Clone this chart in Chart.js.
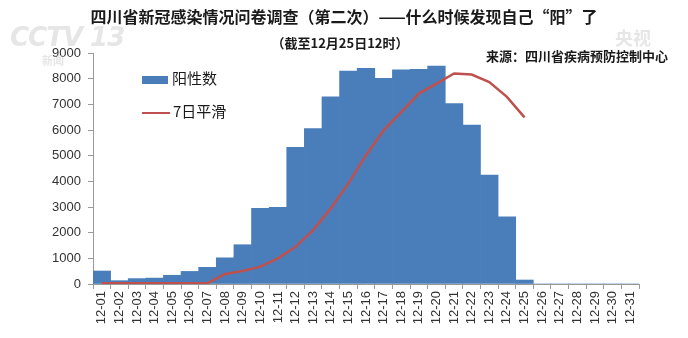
<!DOCTYPE html>
<html>
<head>
<meta charset="utf-8">
<script src="https://cdn.jsdelivr.net/npm/chart.js@4/dist/chart.umd.min.js"></script>
<style>
  body { margin: 0; background: #fff; font-family: "Noto Sans CJK SC", sans-serif; }
  #wrap { position: relative; width: 688px; height: 338px; overflow: hidden; }
  #chart { position: absolute; left: 0; top: 0; }
  .txt { position: absolute; color: #1a1a1a; font-weight: bold; white-space: nowrap; }
  #title { left: 0; width: 688px; top: 4px; text-align: center; font-size: 16px; }
  #subtitle { left: 0; width: 680px; top: 33px; text-align: center; font-size: 13px; }
  #source { right: 20px; top: 46px; font-size: 13px; }
  .legend-item { position: absolute; left: 142px; font-size: 15px; color: #1a1a1a; }
  .legend-box { display: inline-block; width: 26px; height: 8px; background: #4a7ebb; vertical-align: middle; margin-right: 4px; }
  .legend-line { display: inline-block; width: 28px; height: 2px; background: #c0504d; vertical-align: middle; margin-right: 3px; }
  .mark { position: absolute; color: rgba(200, 200, 200, 0.45); font-family: "DejaVu Sans", sans-serif; font-weight: bold; }
</style>
</head>
<body>
<div id="wrap">
  <canvas id="chart" width="688" height="338"></canvas>
  <div class="mark" style="left:10px; top:22px; font-size:26px; font-style:italic; letter-spacing:-1px;">CCTV 13</div>
  <div class="mark" style="left:42px; top:52px; font-size:11px; font-family:'Noto Sans CJK SC';">新闻</div>
  <div class="mark" style="left:615px; top:24px; font-size:18px; font-family:'Noto Sans CJK SC';">央视</div>
  <div class="txt" id="title">四川省新冠感染情况问卷调查（第二次）——什么时候发现自己“阳”了</div>
  <div class="txt" id="subtitle">（截至12月25日12时）</div>
  <div class="txt" id="source">来源：四川省疾病预防控制中心</div>
  <div class="legend-item" style="top:67px;"><span class="legend-box"></span>阳性数</div>
  <div class="legend-item" style="top:100px;"><span class="legend-line"></span>7日平滑</div>
</div>
<script>
// 12月每日报告"阳"的人数及7日平滑
const days = [
    '12-01', '12-02', '12-03', '12-04', '12-05', '12-06', '12-07', '12-08',
    '12-09', '12-10', '12-11', '12-12', '12-13', '12-14', '12-15', '12-16',
    '12-17', '12-18', '12-19', '12-20', '12-21', '12-22', '12-23', '12-24',
    '12-25', '12-26', '12-27', '12-28', '12-29', '12-30', '12-31'
];
const positives = [
    506, 130, 210, 230, 340, 490, 650, 1020, 1530, 2945, 2985, 5320, 6060, 7290, 8300, 8400,
    8015, 8340, 8360, 8490, 7030, 6190, 4240, 2620, 155, 0, 0, 0, 0, 0, 0
];
const smooth7 = [
    30, 30, 30, 30, 30, 30, 30, 390, 505, 675, 1000, 1450, 2100, 2945, 3920, 5020,
    5990, 6700, 7420, 7810, 8200, 8160, 7870, 7290, 6490, null, null, null, null, null, null
];
const yTicks = [0, 1000, 2000, 3000, 4000, 5000, 6000, 7000, 8000, 9000];

const ctx = document.getElementById('chart');

new Chart(ctx, {
    type: 'bar',
    data: {
        labels: days,
        datasets: [
            {
                type: 'line',
                label: '7日平滑',
                data: smooth7,
                borderColor: '#c0504d',
                borderWidth: 2.5,
                pointRadius: 0,
                tension: 0,
                fill: false,
                order: 0
            },
            {
                label: '阳性数',
                data: positives,
                backgroundColor: '#4a7ebb',
                borderWidth: 0,
                barPercentage: 1,
                categoryPercentage: 1,
                order: 1
            }
        ]
    },
    options: {
        responsive: false,
        animation: false,
        layout: {
            padding: { top: 53, right: 49, bottom: 0, left: 0 }
        },
        plugins: {
            legend: { display: false },
            tooltip: { enabled: false }
        },
        scales: {
            x: {
                grid: {
                    offset: true,
                    drawOnChartArea: false,
                    tickLength: 5,
                    color: '#999'
                },
                border: { color: '#999' },
                ticks: {
                    minRotation: 90,
                    maxRotation: 90,
                    autoSkip: false,
                    padding: 2,
                    color: '#333',
                    font: { family: 'Liberation Sans', size: 13 }
                },
                afterFit: (scale) => { scale.height = 54; }
            },
            y: {
                min: 0,
                max: 9000,
                afterBuildTicks: (scale) => {
                    scale.ticks = yTicks.map(v => ({ value: v }));
                },
                grid: {
                    drawOnChartArea: false,
                    tickLength: 5,
                    color: '#999'
                },
                border: { color: '#999' },
                ticks: {
                    padding: 7,
                    color: '#333',
                    font: { family: 'Liberation Sans', size: 13 },
                    callback: (value) => String(value)
                },
                afterFit: (scale) => { scale.width = 93; }
            }
        }
    }
});
</script>
</body>
</html>
